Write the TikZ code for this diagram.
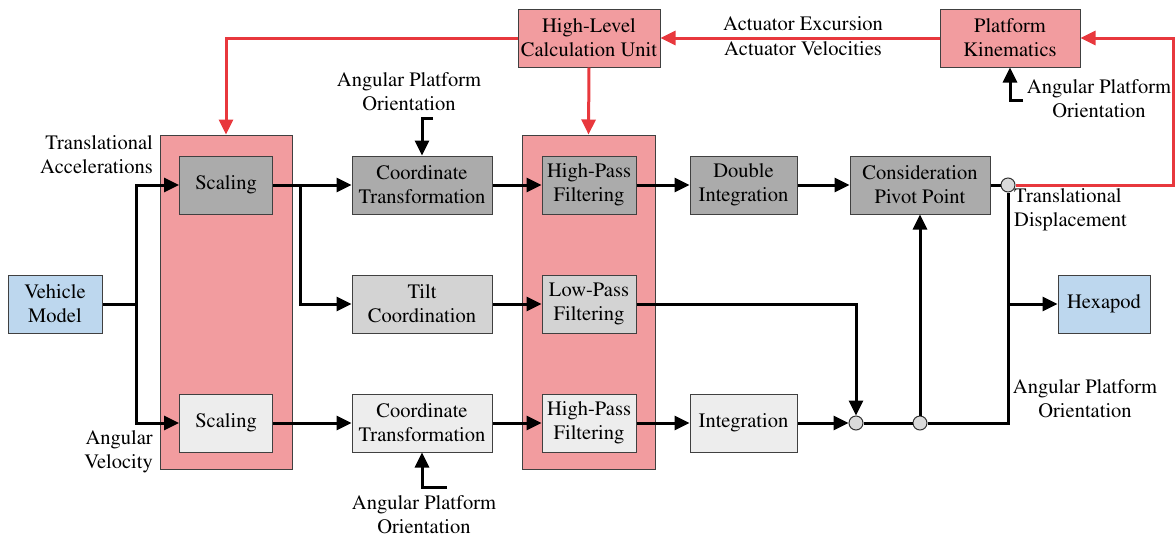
\documentclass[tikz,border=0pt]{standalone}
\usepackage[T1]{fontenc}
\usepackage{mathptmx}
\usepackage{tikz}
\usetikzlibrary{arrows.meta}

\definecolor{bgpink}{HTML}{F29C9F}
\definecolor{redline}{HTML}{E8383D}
\definecolor{darkbox}{HTML}{ABABAB}
\definecolor{midbox}{HTML}{D3D3D3}
\definecolor{lightbox}{HTML}{EDEDED}
\definecolor{bluebox}{HTML}{BDD7EE}
\definecolor{jnfill}{HTML}{DADADA}

\tikzset{
  blk/.style={draw=black!75, line width=1pt, align=center, inner sep=0pt,
              minimum height=58pt, font=\fontsize{20.5}{24}\selectfont},
  stage/.style={draw=black!75, line width=1pt, fill=bgpink, inner sep=0pt},
  lbl/.style={align=center, inner sep=0pt, font=\fontsize{20.5}{24}\selectfont},
  jn/.style={circle, draw=black!80, line width=1pt, fill=jnfill,
             minimum size=14pt, inner sep=0pt},
  ln/.style={line width=3pt},
  arr/.style={line width=3pt, -{Triangle[length=15pt,width=14pt]}},
  redarr/.style={line width=3pt, redline, -{Triangle[length=15pt,width=14pt]}}
}

\begin{document}
\begin{tikzpicture}[x=1pt,y=-1pt]
\useasboundingbox (0,0) rectangle (1176,539);

% stage backgrounds
\node[stage, minimum width=132pt, minimum height=334pt] (lbg) at (226,302) {};
\node[stage, minimum width=133pt, minimum height=334pt] (mbg) at (588.5,302) {};

% blocks
\node[blk, fill=bluebox, minimum width=94pt] (vm) at (55,304) {Vehicle\\Model};
\node[blk, fill=darkbox, minimum width=93pt] (sc1) at (226,185) {Scaling};
\node[blk, fill=lightbox, minimum width=93pt] (sc2) at (226,423) {Scaling};
\node[blk, fill=darkbox, minimum width=140pt] (ct1) at (422,185) {Coordinate\\Transformation};
\node[blk, fill=midbox, minimum width=140pt] (tc) at (422,304) {Tilt\\Coordination};
\node[blk, fill=lightbox, minimum width=140pt] (ct2) at (422,423) {Coordinate\\Transformation};
\node[blk, fill=darkbox, minimum width=94pt] (hp1) at (589,185) {High-Pass\\Filtering};
\node[blk, fill=midbox, minimum width=94pt] (lp) at (589,304) {Low-Pass\\Filtering};
\node[blk, fill=lightbox, minimum width=94pt] (hp2) at (589,423) {High-Pass\\Filtering};
\node[blk, fill=darkbox, minimum width=107pt] (di) at (743.5,185) {Double\\Integration};
\node[blk, fill=lightbox, minimum width=107pt] (integ) at (743.5,423) {Integration};
\node[blk, fill=darkbox, minimum width=140pt] (cp) at (920,185) {Consideration\\Pivot Point};
\node[blk, fill=bluebox, minimum width=92pt] (hex) at (1104,304) {Hexapod};
\node[blk, fill=bgpink, minimum width=142pt] (hl) at (589,38) {High-Level\\Calculation Unit};
\node[blk, fill=bgpink, minimum width=140pt] (pk) at (1010,38) {Platform\\Kinematics};

% junctions
\node[jn] (s1) at (856,423) {};
\node[jn] (s2) at (920,423) {};
\node[jn] (o1) at (1008,185) {};

% helper points
\coordinate (j1) at (136,304);
\coordinate (j2) at (300,185);
\coordinate (j3) at (1008,423);
\coordinate (j4) at (1008,304);
\coordinate (r1) at (1173,185);
\coordinate (a1) at (433,118);
\coordinate (a2) at (447,487);
\coordinate (a3) at (1023,100);

% labels
\node[lbl, anchor=east, align=right] (tacc) at (153,155) {Translational\\Accelerations};
\node[lbl, anchor=east, align=right] (avel) at (153,452) {Angular\\Velocity};
\node[lbl] (apo1) at (409,92) {Angular Platform\\Orientation};
\node[lbl] (apo2) at (424,515) {Angular Platform\\Orientation};
\node[lbl] (apo3) at (1099,98.5) {Angular Platform\\Orientation};
\node[lbl] (apo4) at (1085,399) {Angular Platform\\Orientation};
\node[lbl, anchor=west, align=left] (tdis) at (1014,210) {Translational\\Displacement};
\node[lbl] (aexc) at (803,24) {Actuator Excursion};
\node[lbl] (avlc) at (803,49) {Actuator Velocities};

% black signal paths
\draw[ln] (vm.east) -- (j1);
\draw[arr] (j1) |- (sc1.west);
\draw[arr] (j1) |- (sc2.west);
\draw[arr] (sc1.east) -- (ct1.west);
\draw[arr] (j2) |- (tc.west);
\draw[arr] (sc2.east) -- (ct2.west);
\draw[arr] (ct1) -- (hp1);
\draw[arr] (tc) -- (lp);
\draw[arr] (ct2) -- (hp2);
\draw[arr] (hp1) -- (di);
\draw[arr] (hp2) -- (integ);
\draw[arr] (di) -- (cp);
\draw[arr] (lp.east) -| (s1.north);
\draw[arr] (integ.east) -- (s1.west);
\draw[ln] (s1) -- (s2);
\draw[arr] (s2.north) -- (cp.south);
\draw[ln] (s2.east) -- (j3) -- (o1.south);
\draw[arr] (j4) -- (hex.west);
\draw[ln] (cp.east) -- (o1.west);
\draw[arr] (a1) -| (ct1.north);
\draw[arr] (a2) -| (ct2.south);
\draw[arr] (a3) -| (pk.south);

% red feedback paths
\draw[redarr] (o1.east) -- (r1) |- (pk.east);
\draw[redarr] (pk.west) -- (hl.east);
\draw[redarr] (hl.west) -| (lbg.north);
\draw[redarr] (hl.south) -- (mbg.north);
\end{tikzpicture}
\end{document}
